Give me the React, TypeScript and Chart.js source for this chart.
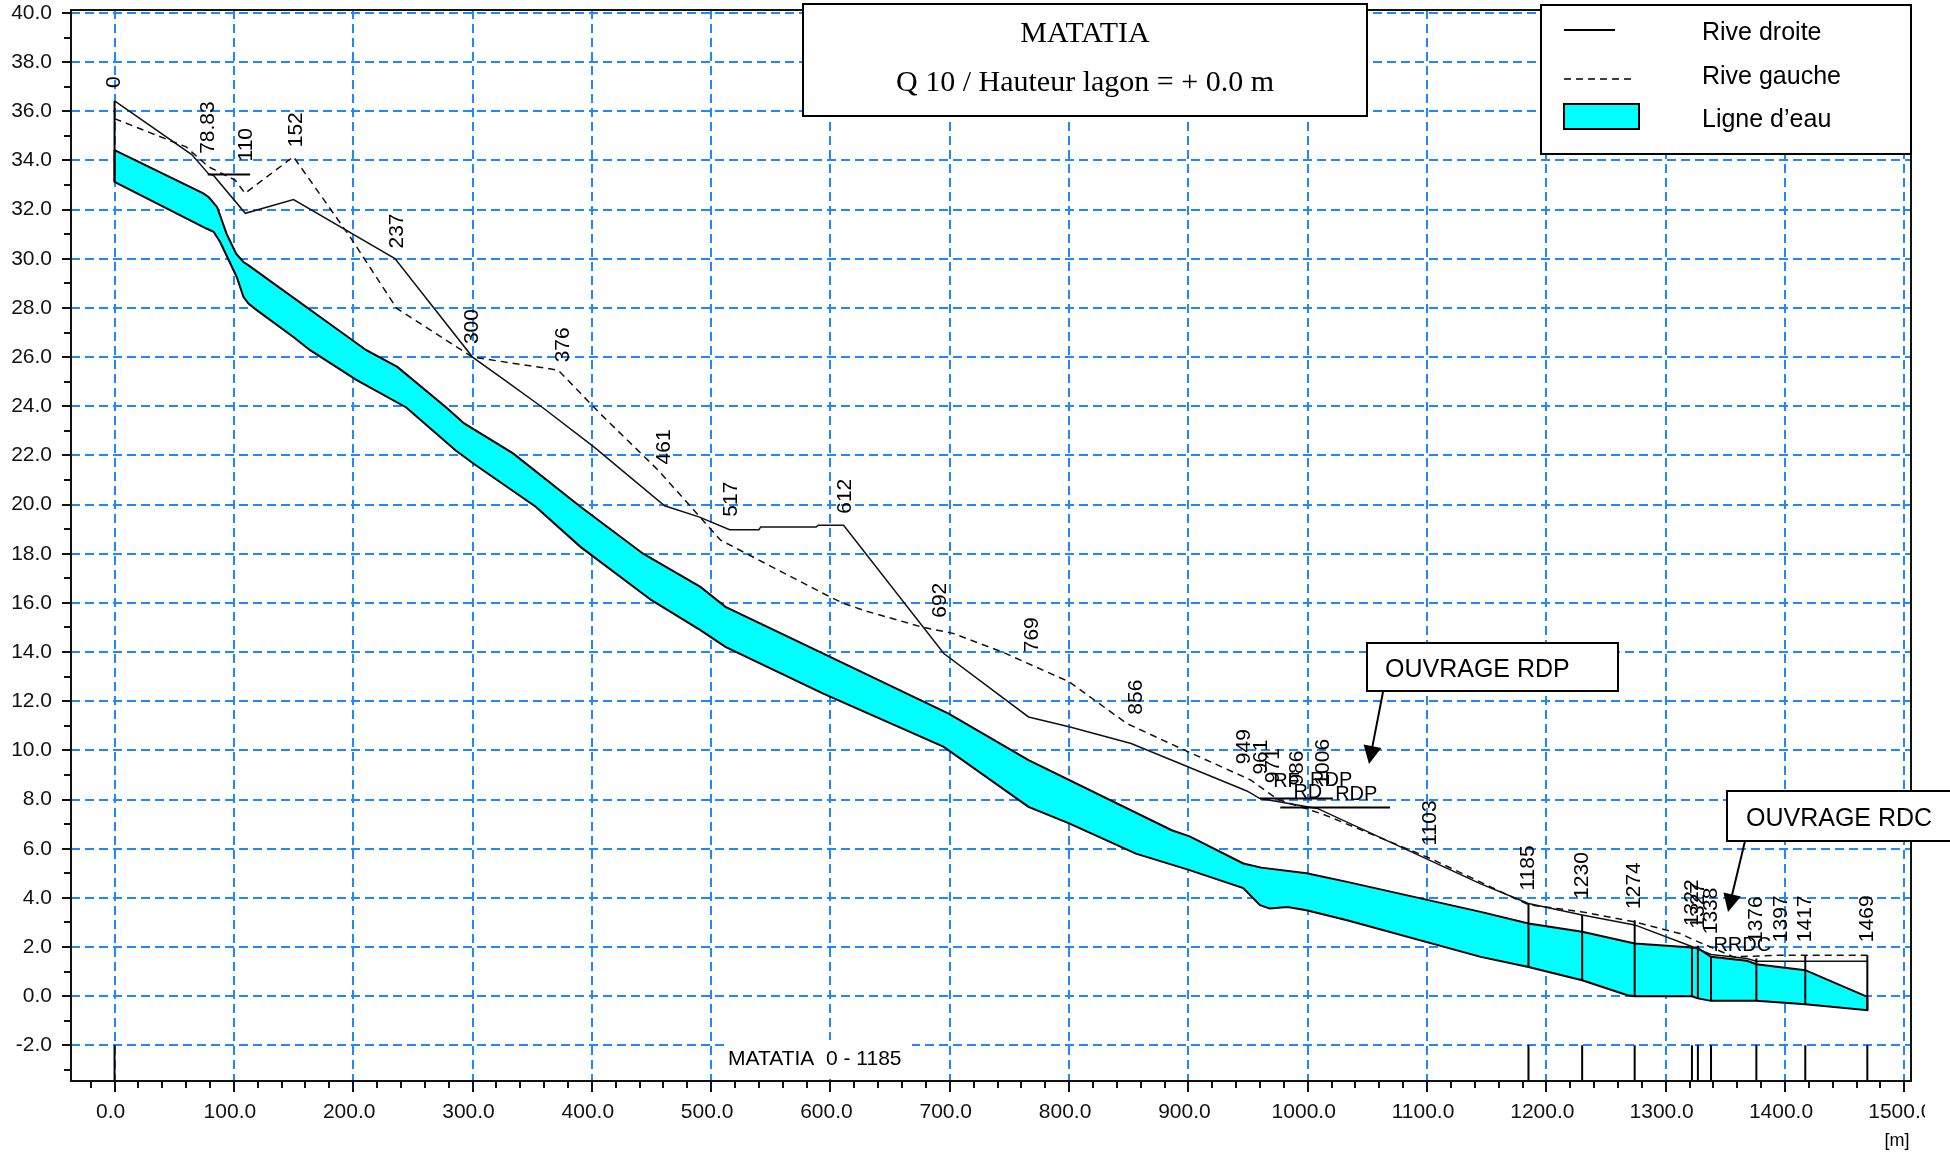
import React, { useEffect, useRef } from 'react';
import { Chart, registerables } from 'chart.js';
Chart.register(...registerables);

// ---------------- data (metres) ----------------
const X_MIN = -36.5;
const X_MAX = 1505.6;
const Y_MIN = -3.45;
const Y_MAX = 40.12;

// water surface (top of cyan band)
const surfX = [0, 74.4, 79, 86, 94, 102, 108, 112, 211, 237, 278, 293, 334, 390.5, 443, 491, 512, 594, 699, 766, 886, 901, 946, 961, 999, 1033, 1145, 1185, 1230, 1274, 1322, 1327, 1338, 1368, 1376, 1417, 1469];
const surfY = [34.42, 32.66, 32.5, 32.1, 31.0, 30.2, 29.87, 29.74, 26.28, 25.6, 23.95, 23.3, 22.08, 19.91, 18.0, 16.65, 15.84, 13.94, 11.5, 9.6, 6.75, 6.5, 5.4, 5.23, 5.0, 4.65, 3.43, 2.96, 2.62, 2.14, 1.98, 1.95, 1.6, 1.44, 1.3, 1.06, -0.03];

// river bed (bottom of cyan band)
const bedX = [0, 77, 83, 88.4, 102.4, 108, 112.2, 119.2, 149.9, 163.9, 203, 244.5, 285.7, 300.7, 353, 390.5, 450, 491, 512, 594, 695, 766, 800, 856, 901, 946, 960, 968, 983, 999, 1033, 1145, 1185, 1230, 1268, 1274, 1322, 1327, 1338, 1376, 1417, 1469];
const bedY = [33.13, 31.23, 31.1, 30.69, 29.26, 28.45, 28.18, 27.91, 26.82, 26.28, 25.06, 23.95, 22.21, 21.67, 19.91, 18.28, 16.11, 14.89, 14.21, 12.31, 10.14, 7.7, 7.03, 5.8, 5.13, 4.4, 3.7, 3.57, 3.63, 3.5, 3.09, 1.6, 1.19, 0.65, 0.04, 0.0, 0.0, -0.09, -0.19, -0.19, -0.33, -0.57];

// Rive droite (solid)
const rdX = [0, 64.7, 78.8, 82.8, 109.6, 150, 235, 300, 327, 358.7, 401.7, 461, 489.7, 515.5, 540, 541.6, 588, 590, 611, 695, 766, 800, 852, 949, 960, 1008, 1144.5, 1185, 1230, 1274, 1323, 1338, 1368, 1376, 1469];
const rdY = [36.42, 34.24, 33.45, 33.4, 31.85, 32.41, 30.01, 26.0, 25.06, 23.95, 22.35, 19.95, 19.5, 18.98, 18.98, 19.09, 19.09, 19.16, 19.16, 13.94, 11.36, 10.96, 10.28, 8.35, 8.04, 7.64, 4.58, 3.77, 3.3, 2.9, 2.0, 1.7, 1.53, 1.42, 1.42];

// Rive gauche (dashed)
const rgX = [0, 60, 78.8, 101, 109.4, 149.9, 197.4, 236.5, 300, 371.8, 407, 455.6, 508, 599.7, 611, 627.7, 676.4, 702.6, 743.7, 800, 848.5, 897.2, 952, 975, 1013, 1103, 1144.5, 1185, 1230, 1274, 1312, 1323, 1357, 1396, 1469];
const rgY = [35.7, 34.55, 33.74, 33.2, 32.66, 34.15, 30.89, 27.98, 26.0, 25.47, 23.7, 21.4, 18.55, 16.24, 15.98, 15.7, 15.02, 14.76, 14.01, 12.79, 11.09, 10.0, 8.8, 8.0, 7.4, 5.6, 4.65, 3.72, 3.43, 3.02, 2.55, 2.3, 1.6, 1.67, 1.67];

// structure decks (horizontal segments)
const structX1 = [78.1, 960, 977];
const structX2 = [113.6, 1021, 1069];
const structY = [33.43, 8.04, 7.68];

// section verticals (bed -> bank)
const vertX = [0, 1185, 1230, 1274, 1322, 1327, 1338, 1376, 1417, 1469];
const vertLow = [33.13, 1.19, 0.65, 0.0, 0.0, -0.09, -0.19, -0.19, -0.33, -0.57];
const vertHigh = [36.42, 3.77, 3.3, 3.09, 1.98, 2.05, 1.64, 1.53, 1.67, 1.67];

// section labels
const sectionNames = ['0', '78.83', '110', '152', '237', '300', '376', '461', '517', '612', '692', '769', '856', '949', '961', '971', '986', '1006', '1103', '1185', '1230', '1274', '1322', '1327', '1338', '1376', '1397', '1417', '1469'];
const sectionX = [0, 78.83, 110, 152, 237, 300, 376, 461, 517, 612, 692, 769, 856, 947, 961, 971, 991, 1013, 1103, 1185, 1230, 1274, 1322, 1327, 1338, 1376, 1397, 1417, 1469];

// structure names
const noteText = ['RF', 'RDP', 'RD', 'RDP', 'RRDC'];
const noteX = [971, 1002, 988, 1023, 1340];
const noteY = [8.5, 8.55, 8.05, 8.0, 1.85];

const xTickStep = 100;
const yTickStep = 2;

// ---------------- helpers ----------------
const pts = (xs: number[], ys: number[]) => xs.map((x, i) => ({ x, y: ys[i] }));

function interp(xs: number[], ys: number[], x: number): number | null {
  for (let i = 0; i < xs.length - 1; i++) {
    if (x >= xs[i] && x <= xs[i + 1]) {
      const d = xs[i + 1] - xs[i];
      const t = d === 0 ? 0 : (x - xs[i]) / d;
      return ys[i] + t * (ys[i + 1] - ys[i]);
    }
  }
  return null;
}

const SANS = "'Liberation Sans', Arial, sans-serif";
const SERIF = "'Liberation Serif', 'Times New Roman', serif";
const GRID = 'rgb(30,136,255)';
const CYAN = '#00ffff';

function arrow(ctx: CanvasRenderingContext2D, x1: number, y1: number, x2: number, y2: number) {
  const hl = 18, hw = 9;
  const a = Math.atan2(y2 - y1, x2 - x1);
  ctx.beginPath();
  ctx.moveTo(x1, y1);
  ctx.lineTo(x2 - hl * 0.8 * Math.cos(a), y2 - hl * 0.8 * Math.sin(a));
  ctx.lineWidth = 2;
  ctx.strokeStyle = '#000';
  ctx.stroke();
  ctx.beginPath();
  ctx.moveTo(x2, y2);
  ctx.lineTo(x2 - hl * Math.cos(a) + hw * Math.sin(a), y2 - hl * Math.sin(a) - hw * Math.cos(a));
  ctx.lineTo(x2 - hl * Math.cos(a) - hw * Math.sin(a), y2 - hl * Math.sin(a) + hw * Math.cos(a));
  ctx.closePath();
  ctx.fillStyle = '#000';
  ctx.fill();
}

function box(ctx: CanvasRenderingContext2D, x: number, y: number, w: number, h: number) {
  ctx.fillStyle = '#fff';
  ctx.fillRect(x, y, w, h);
  ctx.strokeStyle = '#000';
  ctx.lineWidth = 2;
  ctx.setLineDash([]);
  ctx.strokeRect(x, y, w, h);
}

const overlay = {
  id: 'overlay',
  afterDraw(chart: any) {
    const { ctx, chartArea: a } = chart;
    const xs = chart.scales.x;
    const ys = chart.scales.y;
    const X = (v: number) => xs.getPixelForValue(v);
    const Y = (v: number) => ys.getPixelForValue(v);
    ctx.save();
    ctx.setLineDash([]);

    // "MATATIA 0 - 1185" reach label with white background
    ctx.fillStyle = '#fff';
    ctx.fillRect(725, 1040, 187, 39);
    ctx.fillStyle = '#000';
    ctx.font = `21px ${SANS}`;
    ctx.textAlign = 'left';
    ctx.textBaseline = 'alphabetic';
    ctx.fillText('MATATIA  0 - 1185', 728, 1065);

    // frame
    ctx.strokeStyle = '#111';
    ctx.lineWidth = 2;
    ctx.strokeRect(a.left, a.top, a.right - a.left, a.bottom - a.top);

    // x tick marks (major every 100, minor every 20)
    ctx.lineWidth = 2;
    ctx.strokeStyle = '#111';
    for (let v = -20; v <= 1500; v += 20) {
      const px = Math.round(X(v));
      const len = v % xTickStep === 0 ? 11 : 7;
      ctx.beginPath();
      ctx.moveTo(px, a.bottom);
      ctx.lineTo(px, a.bottom + len);
      ctx.stroke();
    }
    // y tick marks (major every 2, minor every 1)
    for (let v = -3; v <= 40; v += 1) {
      const py = Math.round(Y(v));
      const len = v % yTickStep === 0 ? 9 : 7;
      ctx.beginPath();
      ctx.moveTo(a.left - len, py);
      ctx.lineTo(a.left, py);
      ctx.stroke();
    }

    // section labels (rotated)
    ctx.fillStyle = '#000';
    ctx.font = `21px ${SANS}`;
    sectionNames.forEach((name, i) => {
      const sx = sectionX[i];
      let top = -Infinity;
      const c1 = interp(rdX, rdY, sx);
      const c2 = interp(rgX, rgY, sx);
      if (c1 !== null) top = Math.max(top, c1);
      if (c2 !== null) top = Math.max(top, c2);
      structY.forEach((sy, k) => {
        if (sx >= structX1[k] && sx <= structX2[k]) top = Math.max(top, sy);
      });
      ctx.save();
      ctx.translate(X(sx), Y(top) - 13);
      ctx.rotate(-Math.PI / 2);
      ctx.textAlign = 'left';
      ctx.textBaseline = 'middle';
      ctx.fillText(name, 0, 0);
      ctx.restore();
    });

    // structure names
    ctx.font = `20px ${SANS}`;
    ctx.textAlign = 'left';
    ctx.textBaseline = 'alphabetic';
    noteText.forEach((t, i) => ctx.fillText(t, X(noteX[i]), Y(noteY[i])));

    // clip of last x label like the original
    ctx.fillStyle = '#fff';
    ctx.fillRect(1925, 1095, 25, 40);

    // [m]
    ctx.fillStyle = '#000';
    ctx.font = `18px ${SANS}`;
    ctx.textAlign = 'center';
    ctx.textBaseline = 'middle';
    ctx.fillText('[m]', 1897, 1141);

    // title box
    box(ctx, 803, 4, 564, 112);
    ctx.fillStyle = '#000';
    ctx.font = `30px ${SERIF}`;
    ctx.textAlign = 'center';
    ctx.textBaseline = 'alphabetic';
    ctx.fillText('MATATIA', 1085, 42);
    ctx.fillText('Q 10 / Hauteur lagon = + 0.0 m', 1085, 91);

    // legend box
    box(ctx, 1541, 5, 370, 149);
    ctx.strokeStyle = '#000';
    ctx.lineWidth = 2;
    ctx.beginPath();
    ctx.moveTo(1564, 30);
    ctx.lineTo(1615, 30);
    ctx.stroke();
    ctx.lineWidth = 1.5;
    ctx.setLineDash([7, 5]);
    ctx.beginPath();
    ctx.moveTo(1564, 79);
    ctx.lineTo(1636, 79);
    ctx.stroke();
    ctx.setLineDash([]);
    ctx.fillStyle = CYAN;
    ctx.fillRect(1564, 104, 75, 25);
    ctx.lineWidth = 2;
    ctx.strokeRect(1564, 104, 75, 25);
    ctx.fillStyle = '#000';
    ctx.font = `25px ${SANS}`;
    ctx.textAlign = 'left';
    ctx.fillText('Rive droite', 1702, 40);
    ctx.fillText('Rive gauche', 1702, 84);
    ctx.fillText('Ligne d\u2019eau', 1702, 127);

    // callouts
    box(ctx, 1367, 643, 251, 48);
    ctx.fillStyle = '#000';
    ctx.font = `25px ${SANS}`;
    ctx.fillText('OUVRAGE RDP', 1385, 677);
    arrow(ctx, 1383, 692, 1369, 764);

    box(ctx, 1727, 791, 240, 50);
    ctx.fillStyle = '#000';
    ctx.fillText('OUVRAGE RDC', 1746, 826);
    arrow(ctx, 1745, 841, 1728, 912);

    ctx.restore();
  },
};

export default function App() {
  const ref = useRef<HTMLCanvasElement>(null);
  useEffect(() => {
    const canvas = ref.current!;
    Chart.defaults.font.family = SANS;
    Chart.defaults.color = '#111';

    const band = [...pts(surfX, surfY), ...pts(bedX, bedY).reverse(), { x: surfX[0], y: surfY[0] }];
    const struct: any[] = [];
    structY.forEach((y, i) => {
      struct.push({ x: structX1[i], y }, { x: structX2[i], y }, { x: structX2[i], y: null });
    });
    const verts: any[] = [];
    vertX.forEach((x, i) => {
      verts.push({ x, y: vertLow[i] }, { x, y: vertHigh[i] }, { x, y: null });
    });
    const feet: any[] = [];
    vertX.forEach((x) => {
      feet.push({ x, y: -2 }, { x, y: Y_MIN - 1 }, { x, y: null });
    });

    const common = { pointRadius: 0, pointHoverRadius: 0, tension: 0, spanGaps: false };

    const chart = new Chart(canvas, {
      type: 'line',
      data: {
        datasets: [
          { ...common, label: 'struct', data: struct, borderColor: '#000', borderWidth: 2, fill: false, order: 1 },
          { ...common, label: 'verts', data: verts, borderColor: '#000', borderWidth: 2, fill: false, order: 1 },
          { ...common, label: 'feet', data: feet, borderColor: '#000', borderWidth: 2, fill: false, order: 1 },
          { ...common, label: 'Rive droite', data: pts(rdX, rdY), borderColor: '#111', borderWidth: 1.5, fill: false, order: 2 },
          { ...common, label: 'Rive gauche', data: pts(rgX, rgY), borderColor: '#111', borderWidth: 1.5, borderDash: [7, 5], fill: false, order: 3 },
          { ...common, label: 'Ligne d\u2019eau', data: band, borderColor: '#000', borderWidth: 2, backgroundColor: CYAN, fill: 'shape', order: 5 },
        ],
      },
      options: {
        responsive: false,
        maintainAspectRatio: false,
        animation: false,
        devicePixelRatio: 1,
        events: [],
        layout: { padding: { left: 0, top: 10, right: 39, bottom: 0 } },
        plugins: { legend: { display: false }, tooltip: { enabled: false }, title: { display: false } },
        scales: {
          x: {
            type: 'linear',
            min: X_MIN,
            max: X_MAX,
            afterFit: (s: any) => { s.height = 74; s.paddingLeft = 0; s.paddingRight = 0; },
            grid: { color: GRID, lineWidth: 2, drawTicks: false },
            border: { display: false, dash: [9, 5] },
            ticks: {
              stepSize: xTickStep,
              includeBounds: false,
              autoSkip: false,
              maxRotation: 0,
              padding: 19,
              labelOffset: -4,
              color: '#111',
              font: { size: 21, family: SANS },
              callback: (v: any) => Number(v).toFixed(1),
            },
          },
          y: {
            type: 'linear',
            min: Y_MIN,
            max: Y_MAX,
            afterFit: (s: any) => { s.width = 71; s.paddingTop = 0; s.paddingBottom = 0; },
            grid: { color: GRID, lineWidth: 2, drawTicks: false },
            border: { display: false, dash: [9, 5] },
            ticks: {
              stepSize: yTickStep,
              includeBounds: false,
              autoSkip: false,
              padding: 19,
              color: '#111',
              font: { size: 21, family: SANS },
              callback: (v: any) => Number(v).toFixed(1),
            },
          },
        },
      },
      plugins: [overlay],
    } as any);
    return () => chart.destroy();
  }, []);

  return (
    <div style={{ position: 'fixed', left: 0, top: 0, width: 1950, height: 1155, background: '#fff' }}>
      <canvas ref={ref} width={1950} height={1155} style={{ display: 'block', width: 1950, height: 1155 }} />
    </div>
  );
}
